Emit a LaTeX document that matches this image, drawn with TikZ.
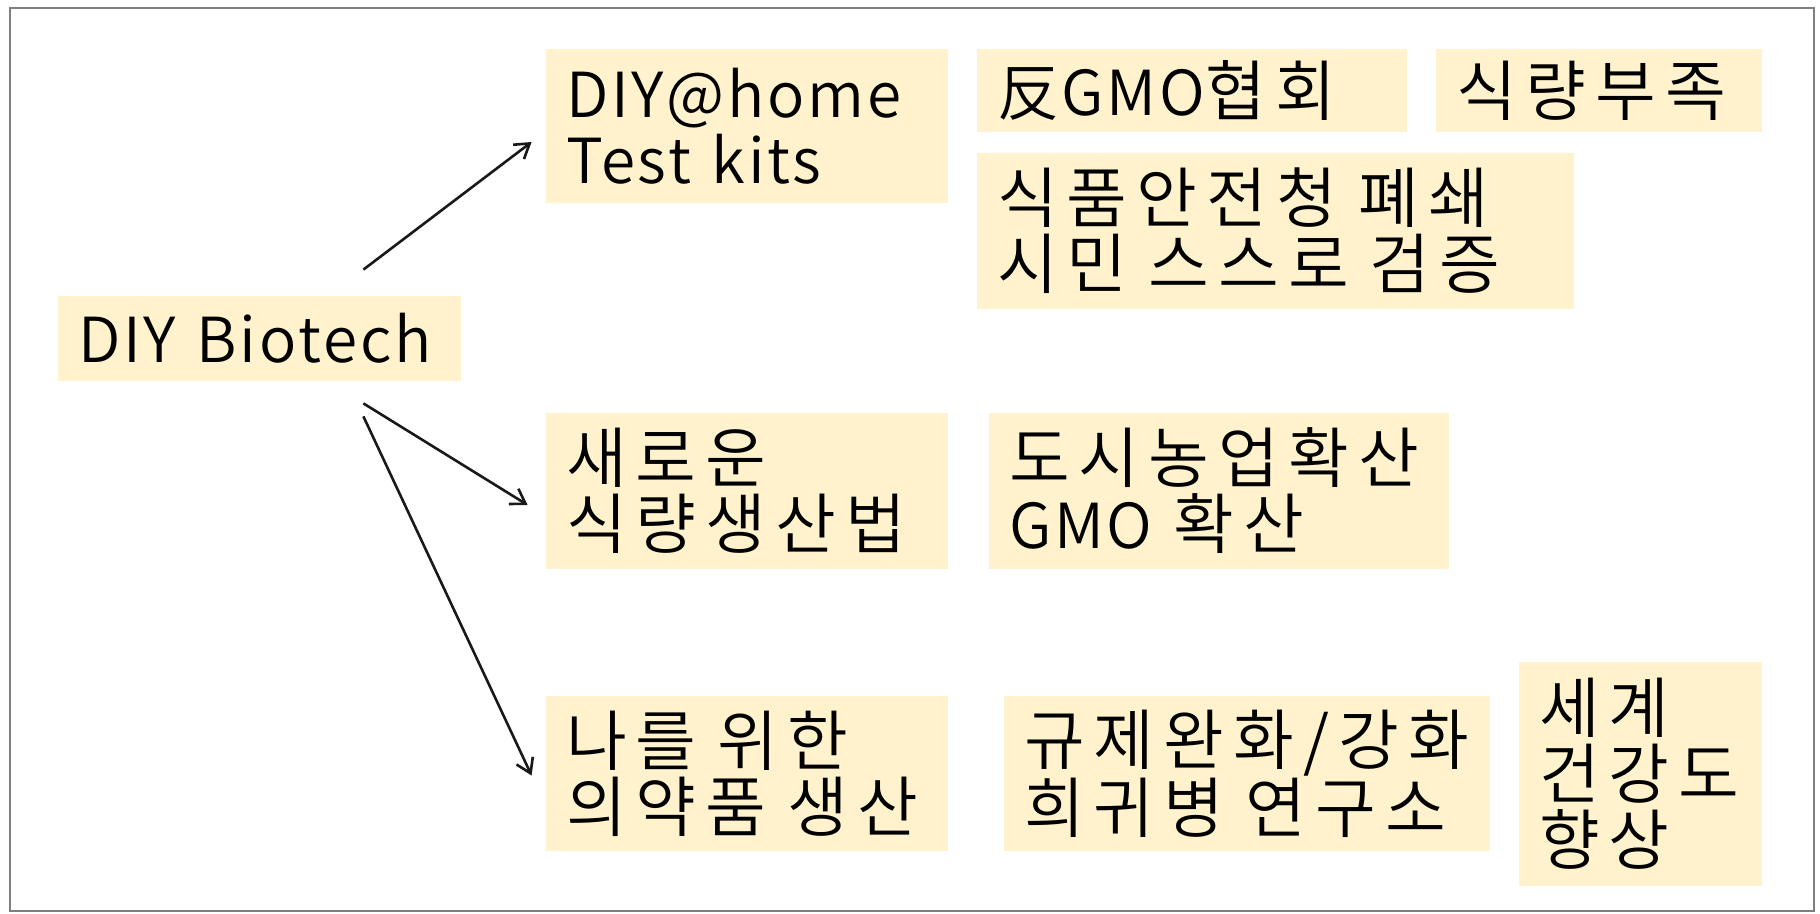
\documentclass[tikz,border=0pt]{standalone}
\usepackage{fontspec}
\setmainfont{Noto Sans CJK KR DemiLight}[LetterSpace=4.5]
\newfontfamily\krfont{Noto Sans CJK KR DemiLight}[WordSpace=1.25,LetterSpace=14]
\newcommand{\kr}{\krfont\fontsize{33pt}{33pt}\selectfont}
\usetikzlibrary{arrows.meta}
\definecolor{boxfill}{HTML}{FFF2CC}
\definecolor{framegray}{HTML}{7F7F7F}
\begin{document}
\begin{tikzpicture}[x=0.5pt,y=-0.5pt,
  box/.style={fill=boxfill, inner xsep=10pt, inner ysep=0pt, align=left,
    font=\fontsize{31pt}{33pt}\selectfont, anchor=center},
  arr/.style={line width=1.3pt, draw=black!90, -{Straight Barb[length=7pt,width=9pt]}}]
\useasboundingbox (0,0) rectangle (1820,914);
\draw[framegray, line width=1pt] (10,8) rectangle (1814,911);
% boxes
\node[box, text width=181.5pt, minimum height=42.5pt] (bio) at (259.5,338.5) {DIY Biotech};
\node[box, text width=181pt, minimum height=77pt] (kit) at (747,126) {DIY@home\\Test kits};
\node[box, text width=195pt, minimum height=41.5pt] (anti) at (1192,90.5) {反GMO{\kr 협회}};
\node[box, text width=143pt, minimum height=41.5pt] (food) at (1599,90.5) {\kr 식량부족};
\node[box, text width=278.5pt, minimum height=78pt] (fda) at (1275.5,231) {\kr 식품안전청~폐쇄\\시민~스스로~검증};
\node[box, text width=181pt, minimum height=78pt] (newf) at (747,491) {\kr 새로운\\식량생산법};
\node[box, text width=210pt, minimum height=78pt] (urban) at (1219,491) {{\kr 도시농업확산}\\GMO{\kr~확산}};
\node[box, text width=181pt, minimum height=77.5pt] (med) at (747,773.5) {\kr 나를~위한\\의약품~생산};
\node[box, text width=223pt, minimum height=77.5pt] (reg) at (1247,773.5) {\kr 규제완화/강화\\희귀병~연구소};
\node[box, text width=101.5pt, minimum height=112pt] (world) at (1640.5,774) {\kr 세계\\건강도\\향상};
% arrow start points
\coordinate (s1) at ([shift={(-98,-26)}]bio.north east);
\coordinate (s2) at ([shift={(-98,22)}]bio.south east);
\coordinate (s3) at ([shift={(-98,35)}]bio.south east);
\draw[arr] (s1) -- ([shift={(-14,16)}]kit.west);
\draw[arr] (s2) -- ([shift={(-18,14)}]newf.west);
\draw[arr] (s3) -- ([shift={(-14,2)}]med.west);
\end{tikzpicture}
\end{document}
